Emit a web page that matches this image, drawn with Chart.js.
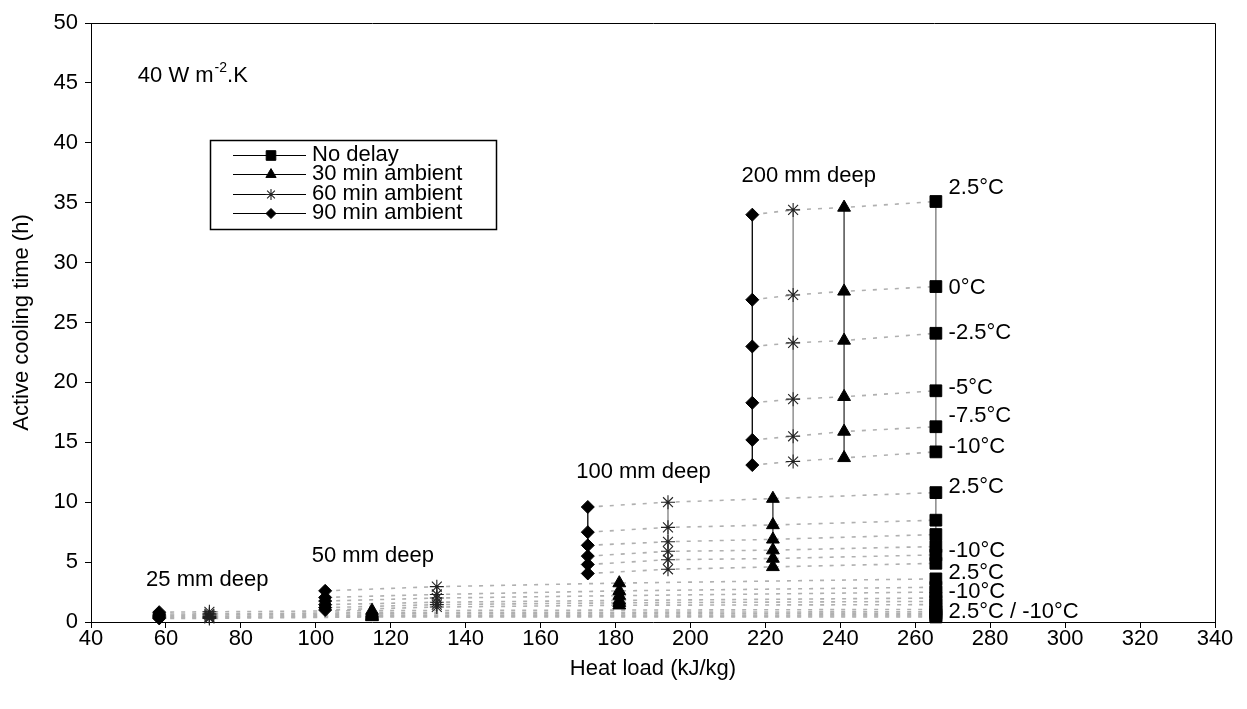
<!DOCTYPE html>
<html>
<head>
<meta charset="utf-8">
<script src="https://cdn.jsdelivr.net/npm/chart.js@4.4.0/dist/chart.umd.min.js"></script>
<style>
html,body{margin:0;padding:0;background:#fff;}
#wrap{width:1247px;height:709px;position:relative;}
</style>
</head>
<body>
<div id="wrap"><canvas id="c" width="1247" height="709"></canvas></div>
<script>
// ---------- DATA ----------
const delays = ['No delay', '30 min ambient', '60 min ambient', '90 min ambient'];
const temperatures = ['2.5°C', '0°C', '-2.5°C', '-5°C', '-7.5°C', '-10°C'];
const depths = ['25 mm deep', '50 mm deep', '100 mm deep', '200 mm deep'];
const xTicks = [40, 60, 80, 100, 120, 140, 160, 180, 200, 220, 240, 260, 280, 300, 320, 340];
const yTicks = [0, 5, 10, 15, 20, 25, 30, 35, 40, 45, 50];

// heat load (kJ/kg), order: No delay, 30 min, 60 min, 90 min
const heatLoad25 = [265.5, 115.0, 71.6, 58.2];
const heatLoad50 = [265.5, 181.0, 132.3, 102.5];
const heatLoad100 = [265.5, 222.0, 194.0, 172.6];
const heatLoad200 = [265.5, 241.0, 227.4, 216.5];

// active cooling time (h), order of temperatures: 2.5, 0, -2.5, -5, -7.5, -10 °C
const time25NoDelay = [1.05, 0.86, 0.73, 0.6, 0.5, 0.42];
const time25Min30 = [0.95, 0.78, 0.68, 0.56, 0.48, 0.42];
const time25Min60 = [0.85, 0.68, 0.58, 0.47, 0.38, 0.3];
const time25Min90 = [0.82, 0.66, 0.56, 0.45, 0.37, 0.3];

const time50NoDelay = [3.6, 2.9, 2.5, 2.0, 1.72, 1.45];
const time50Min30 = [3.25, 2.6, 2.2, 1.8, 1.6, 1.4];
const time50Min60 = [2.95, 2.3, 2.0, 1.65, 1.45, 1.25];
const time50Min90 = [2.6, 2.05, 1.75, 1.45, 1.2, 1.0];

const time100NoDelay = [10.8, 8.5, 7.3, 6.3, 5.6, 4.9];
const time100Min30 = [10.3, 8.1, 6.9, 6.0, 5.3, 4.6];
const time100Min60 = [10.0, 7.9, 6.7, 5.9, 5.2, 4.4];
const time100Min90 = [9.6, 7.5, 6.4, 5.5, 4.8, 4.05];

const time200NoDelay = [35.1, 28.0, 24.1, 19.3, 16.3, 14.2];
const time200Min30 = [34.6, 27.6, 23.5, 18.8, 15.9, 13.7];
const time200Min60 = [34.4, 27.3, 23.3, 18.6, 15.5, 13.4];
const time200Min90 = [34.0, 26.9, 23.0, 18.3, 15.2, 13.1];

// annotation texts and their anchors (data units)
const tempLabelTexts = ['2.5°C', '0°C', '-2.5°C', '-5°C', '-7.5°C', '-10°C', '2.5°C', '-10°C', '2.5°C', '-10°C', '2.5°C / -10°C'];
const tempLabelY = [36.2, 27.9, 24.1, 19.5, 17.2, 14.6, 11.3, 5.9, 4.1, 2.5, 0.86];
const tempLabelX = 268.9;
const depthLabelX = [54.7, 98.9, 169.5, 213.6];
const depthLabelY = [3.5, 5.5, 12.5, 37.2];
const coefLabel = ['40 W m', '-2', '.K'];
const coefLabelPos = [52.5, 45.6];

// ---------- BUILD ----------
const heatLoads = [heatLoad25, heatLoad50, heatLoad100, heatLoad200];
const times = [
  [time25NoDelay, time25Min30, time25Min60, time25Min90],
  [time50NoDelay, time50Min30, time50Min60, time50Min90],
  [time100NoDelay, time100Min30, time100Min60, time100Min90],
  [time200NoDelay, time200Min30, time200Min60, time200Min90]
];
const delayStyles = [
  {pointStyle: 'rect', radius: 8.3, line: '#777777', border: '#000', bw: 1},
  {pointStyle: 'triangle', radius: 7.4, line: '#333333', border: '#000', bw: 1},
  {pointStyle: 'star', radius: 7, line: '#808080', border: '#222', bw: 1.1},
  {pointStyle: 'rectRot', radius: 6.5, line: '#000000', border: '#000', bw: 1}
];

const datasets = [];
// dotted connectors (same temperature, across delays)
depths.forEach((d, di) => {
  temperatures.forEach((t, ti) => {
    datasets.push({
      label: d + ' ' + t,
      data: [3, 2, 1, 0].map(k => ({x: heatLoads[di][k], y: times[di][k][ti]})),
      showLine: true,
      borderColor: '#b0b0b0',
      borderWidth: 1.6,
      borderDash: [4, 7],
      pointRadius: 0,
      pointHoverRadius: 0,
      fill: false,
      order: 10,
      clip: false
    });
  });
});
// delay series (vertical solid lines with markers)
depths.forEach((d, di) => {
  delays.forEach((dl, k) => {
    const s = delayStyles[k];
    datasets.push({
      label: dl,
      data: temperatures.map((t, ti) => ({x: heatLoads[di][k], y: times[di][k][ti]})),
      showLine: true,
      borderColor: s.line,
      borderWidth: 1.3,
      pointStyle: s.pointStyle,
      pointRadius: s.radius,
      pointHoverRadius: s.radius,
      pointBackgroundColor: '#000',
      pointBorderColor: s.border,
      pointBorderWidth: s.bw,
      fill: false,
      order: 1,
      clip: false
    });
  });
});

const FONT = '"Liberation Sans", Arial, sans-serif';

const annotationPlugin = {
  id: 'annot',
  afterDraw(chart) {
    const {ctx, chartArea: a, scales: {x, y}} = chart;
    ctx.save();
    // plot box top and right
    ctx.strokeStyle = '#000';
    ctx.lineWidth = 1;
    ctx.beginPath();
    ctx.moveTo(Math.round(a.left) + 0.5, Math.round(a.top) + 0.5);
    ctx.lineTo(Math.round(a.right) + 0.5, Math.round(a.top) + 0.5);
    ctx.lineTo(Math.round(a.right) + 0.5, Math.round(a.bottom) + 0.5);
    ctx.stroke();

    ctx.fillStyle = '#000';
    ctx.textBaseline = 'middle';
    ctx.textAlign = 'left';
    ctx.font = '22px ' + FONT;
    tempLabelTexts.forEach((t, i) => {
      ctx.fillText(t, x.getPixelForValue(tempLabelX), y.getPixelForValue(tempLabelY[i]));
    });
    depths.forEach((d, i) => {
      ctx.fillText(d, x.getPixelForValue(depthLabelX[i]), y.getPixelForValue(depthLabelY[i]));
    });
    // coefficient label with superscript
    let cx = x.getPixelForValue(coefLabelPos[0]);
    const cy = y.getPixelForValue(coefLabelPos[1]);
    ctx.fillText(coefLabel[0], cx, cy);
    cx += ctx.measureText(coefLabel[0]).width + 1;
    ctx.font = '14px ' + FONT;
    ctx.fillText(coefLabel[1], cx, cy - 8);
    cx += ctx.measureText(coefLabel[1]).width;
    ctx.font = '22px ' + FONT;
    ctx.fillText(coefLabel[2], cx, cy);

    // legend
    const box = {l: 210, t: 140, r: 496, b: 229};
    ctx.fillStyle = '#fff';
    ctx.fillRect(box.l, box.t, box.r - box.l, box.b - box.t);
    ctx.strokeStyle = '#000';
    ctx.lineWidth = 1.5;
    ctx.strokeRect(box.l + 0.5, box.t + 0.5, box.r - box.l, box.b - box.t);
    const rowY = [154.5, 174, 193.5, 213];
    delays.forEach((dl, k) => {
      const s = delayStyles[k];
      const ry = rowY[k];
      ctx.strokeStyle = '#000';
      ctx.lineWidth = 1;
      ctx.beginPath();
      ctx.moveTo(233, Math.round(ry) + 0.5);
      ctx.lineTo(306, Math.round(ry) + 0.5);
      ctx.stroke();
      ctx.fillStyle = '#000';
      ctx.strokeStyle = s.border;
      ctx.lineWidth = s.bw;
      Chart.helpers.drawPoint(ctx, {pointStyle: s.pointStyle, radius: s.radius - 1.5, rotation: 0, borderWidth: s.bw}, 271, Math.round(ry) + 0.5);
      ctx.fillStyle = '#000';
      ctx.font = '22px ' + FONT;
      ctx.fillText(dl, 312, ry);
    });
    ctx.restore();
  }
};

const chart = new Chart(document.getElementById('c'), {
  type: 'scatter',
  data: {datasets},
  plugins: [annotationPlugin],
  options: {
    responsive: false,
    animation: false,
    events: [],
    layout: {padding: {left: 0, top: 23, right: 32, bottom: 0}},
    plugins: {legend: {display: false}, tooltip: {enabled: false}},
    scales: {
      x: {
        type: 'linear',
        min: xTicks[0], max: xTicks[xTicks.length - 1],
        afterBuildTicks(scale) { scale.ticks = xTicks.map(v => ({value: v})); },
        afterFit(scale) { scale.height = 87; },
        grid: {display: true, drawOnChartArea: false, drawTicks: true, tickLength: 6, color: '#000', lineWidth: 1},
        border: {display: true, color: '#000', width: 1},
        ticks: {color: '#000', font: {family: FONT, size: 22, lineHeight: 1}, padding: 0, maxRotation: 0, autoSkip: false},
        title: {display: true, text: 'Heat load (kJ/kg)', color: '#000', font: {family: FONT, size: 22, lineHeight: 1.2}, padding: {top: 0, bottom: 27}}
      },
      y: {
        type: 'linear',
        min: yTicks[0], max: yTicks[yTicks.length - 1],
        afterBuildTicks(scale) { scale.ticks = yTicks.map(v => ({value: v})); },
        afterFit(scale) { scale.width = 91; },
        grid: {display: true, drawOnChartArea: false, drawTicks: true, tickLength: 6, color: '#000', lineWidth: 1},
        border: {display: true, color: '#000', width: 1},
        ticks: {color: '#000', font: {family: FONT, size: 22, lineHeight: 1}, padding: 7, autoSkip: false},
        title: {display: true, text: 'Active cooling time (h)', color: '#000', font: {family: FONT, size: 22, lineHeight: 1.2}, padding: {top: 9, bottom: 0}}
      }
    }
  }
});
</script>
</body>
</html>
